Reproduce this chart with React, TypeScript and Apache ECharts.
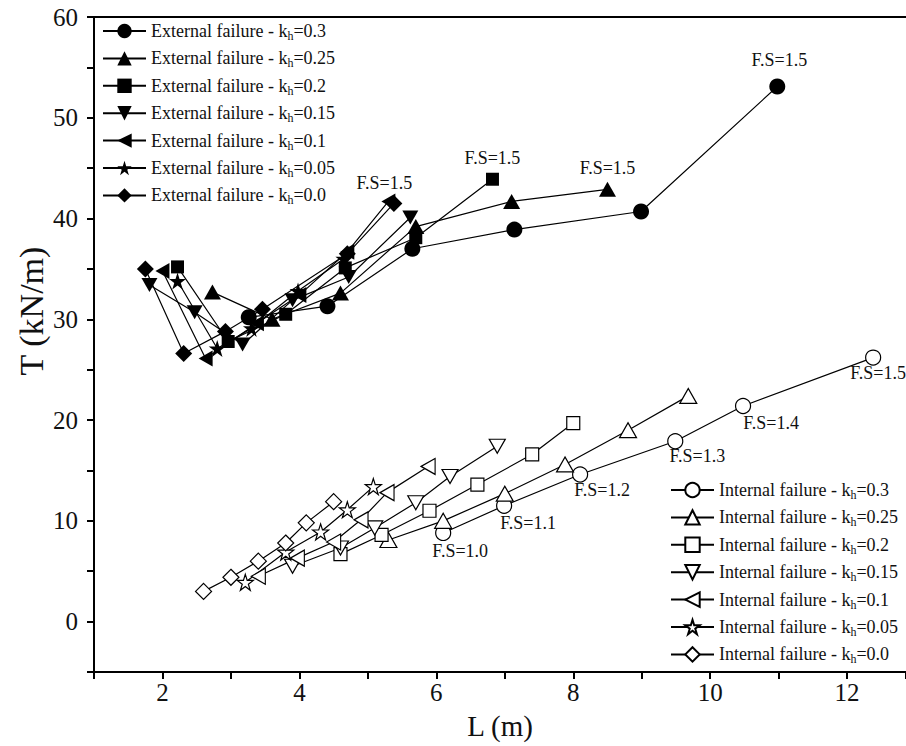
import React, { useEffect, useRef } from "react";
import * as echarts from "echarts";

// ---------- data ----------
const extL_030 = [3.26, 4.41, 5.65, 7.14, 8.99, 10.98];
const extT_030 = [30.2, 31.3, 37.0, 38.9, 40.7, 53.1];
const extL_025 = [2.73, 3.6, 4.6, 5.7, 7.1, 8.5];
const extT_025 = [32.7, 30.0, 32.6, 39.2, 41.7, 42.9];
const extL_020 = [2.22, 2.96, 3.8, 4.67, 5.7, 6.82];
const extT_020 = [35.2, 27.8, 30.5, 35.1, 38.1, 43.9];
const extL_015 = [1.81, 2.47, 3.17, 3.9, 4.72, 5.62];
const extT_015 = [33.4, 30.7, 27.5, 31.9, 34.2, 40.1];
const extL_010 = [2.0, 2.63, 3.38, 4.0, 4.7, 5.3];
const extT_010 = [34.8, 26.1, 29.6, 32.4, 36.7, 41.7];
const extL_005 = [2.22, 2.8, 3.3, 3.98, 4.65];
const extT_005 = [33.8, 27.1, 29.1, 32.8, 36.0];
const extL_000 = [1.75, 2.31, 2.92, 3.46, 4.7, 5.38];
const extT_000 = [35.0, 26.6, 28.8, 31.0, 36.5, 41.5];

const intL_030 = [6.1, 6.99, 8.1, 9.49, 10.48, 12.38];
const intT_030 = [8.8, 11.5, 14.6, 17.9, 21.4, 26.2];
const intL_025 = [5.3, 6.1, 7.0, 7.88, 8.8, 9.68];
const intT_025 = [8.1, 10.0, 12.7, 15.6, 19.0, 22.4];
const intL_020 = [4.6, 5.2, 5.9, 6.6, 7.4, 8.0];
const intT_020 = [6.7, 8.6, 11.0, 13.6, 16.6, 19.7];
const intL_015 = [3.9, 4.6, 5.1, 5.7, 6.2, 6.89];
const intT_015 = [5.5, 7.3, 9.3, 11.8, 14.4, 17.4];
const intL_010 = [3.4, 3.97, 4.5, 4.9, 5.28, 5.88];
const intT_010 = [4.5, 6.3, 7.9, 10.1, 12.8, 15.4];
const intL_005 = [3.21, 3.8, 4.31, 4.7, 5.08];
const intT_005 = [3.9, 6.9, 8.9, 11.1, 13.4];
const intL_000 = [2.6, 3.0, 3.4, 3.8, 4.1, 4.5];
const intT_000 = [3.0, 4.4, 6.0, 7.8, 9.8, 11.9];

const intFsLabels = ["F.S=1.0", "F.S=1.1", "F.S=1.2", "F.S=1.3", "F.S=1.4", "F.S=1.5"];
const extFsLabel = "F.S=1.5";

const khValues = ["0.3", "0.25", "0.2", "0.15", "0.1", "0.05", "0.0"];

const xAxisTitle = "L (m)";
const yAxisTitle = "T (kN/m)";

// ---------- styles ----------
const FONT = "'Liberation Serif', 'Times New Roman', serif";
const DOWN = "path://M0,0L10,0L5,8.66Z";
const LEFT = "path://M0,5L8.66,0L8.66,10Z";
const STAR =
  "path://M5,0L6.18,3.62L10,3.62L6.91,5.86L8.09,9.51L5,7.27L1.91,9.51L3.09,5.86L0,3.62L3.82,3.62Z";
const symbols = ["circle", "triangle", "rect", DOWN, LEFT, STAR, "diamond"];
const extSizes: any[] = [16, [17, 15], 13, [16, 14], [14, 16], 17, 17];
const intSizes: any[] = [15, [17, 15], 13, [16, 14], [14, 16], 16, 16];
const intLabelOffsets = [
  [17, 18],
  [24, 17],
  [22, 16],
  [22, 15],
  [28, 17],
  [5, 15],
];

const extL = [extL_030, extL_025, extL_020, extL_015, extL_010, extL_005, extL_000];
const extT = [extT_030, extT_025, extT_020, extT_015, extT_010, extT_005, extT_000];
const intL = [intL_030, intL_025, intL_020, intL_015, intL_010, intL_005, intL_000];
const intT = [intT_030, intT_025, intT_020, intT_015, intT_010, intT_005, intT_000];

// which external series carry the final F.S label: [distance, dx]
const extLabelPos: Record<number, number[]> = { 0: [10, 2], 1: [5, 0], 2: [6, 0], 4: [1, -4] };

const extNames = khValues.map((k) => `External failure - kh=${k}`);
const intNames = khValues.map((k) => `Internal failure - kh=${k}`);

const labelFont = { fontFamily: FONT, fontSize: 18, color: "#111" };

function buildSeries(): any[] {
  const out: any[] = [];
  khValues.forEach((_, i) => {
    const xs = extL[i];
    const ys = extT[i];
    out.push({
      name: extNames[i],
      type: "line",
      symbol: symbols[i],
      symbolSize: extSizes[i],
      showAllSymbol: true,
      lineStyle: { color: "#000", width: 1.2 },
      itemStyle: { color: "#000", borderColor: "#000", borderWidth: 0 },
      data: xs.map((x, j) => {
        const item: any = { value: [x, ys[j]] };
        const lp = extLabelPos[i];
        if (j === xs.length - 1 && lp !== undefined) {
          item.label = {
            show: true,
            position: "top",
            distance: lp[0],
            offset: [lp[1], 0],
            formatter: extFsLabel,
            ...labelFont,
          };
        }
        return item;
      }),
    });
  });
  khValues.forEach((_, i) => {
    const xs = intL[i];
    const ys = intT[i];
    out.push({
      name: intNames[i],
      type: "line",
      symbol: symbols[i],
      symbolSize: intSizes[i],
      showAllSymbol: true,
      lineStyle: { color: "#000", width: 1.2 },
      itemStyle: { color: "#fff", borderColor: "#000", borderWidth: 1.2 },
      data: xs.map((x, j) => {
        const item: any = { value: [x, ys[j]] };
        if (i === 0) {
          item.label = {
            show: true,
            position: "inside",
            offset: intLabelOffsets[j],
            formatter: intFsLabels[j],
            ...labelFont,
          };
        }
        return item;
      }),
    });
  });
  return out;
}

const legendText = {
  fontFamily: FONT,
  fontSize: 18,
  color: "#111",
  lineHeight: 22,
  rich: {
    s: { fontFamily: FONT, fontSize: 12, lineHeight: 12, verticalAlign: "bottom", color: "#111" },
  },
};

const legendBase = {
  orient: "vertical",
  padding: 0,
  itemWidth: 43,
  itemHeight: 18,
  itemGap: 5.4,
  selectedMode: false,
  textStyle: legendText,
  formatter: (n: string) => n.replace("kh", "k{s|h}"),
};

export default function App() {
  const ref = useRef<HTMLDivElement>(null);
  useEffect(() => {
    if (!ref.current) return;
    const chart = echarts.init(ref.current, undefined, { renderer: "svg" });
    const axisLine = { show: true, onZero: false, lineStyle: { color: "#000", width: 2 } };
    chart.setOption({
      animation: false,
      backgroundColor: "#fff",
      grid: {
        left: 94,
        right: 0,
        top: 17,
        bottom: 74,
        containLabel: false,
        outerBoundsMode: "none",
      },
      graphic: [
        {
          type: "text",
          x: 31,
          y: 311,
          rotation: Math.PI / 2,
          style: {
            text: yAxisTitle,
            fontFamily: FONT,
            fontSize: 34,
            fill: "#111",
            align: "center",
            verticalAlign: "middle",
          },
        },
      ],
      xAxis: [
        {
          type: "value",
          min: 1,
          max: 12.86,
          interval: 1,
          name: xAxisTitle,
          nameLocation: "middle",
          nameGap: 37,
          nameTextStyle: { fontFamily: FONT, fontSize: 29, color: "#111", lineHeight: 32 },
          axisLine,
          axisTick: { show: true, inside: false, length: 7, lineStyle: { color: "#000", width: 2 } },
          axisLabel: {
            fontFamily: FONT,
            fontSize: 25,
            color: "#111",
            margin: 8,
            formatter: (v: number) => (Math.abs(v % 2) < 1e-9 ? String(v) : ""),
          },
          splitLine: { show: false },
        },
        {
          type: "value",
          position: "top",
          min: 1,
          max: 12.86,
          axisLine,
          axisTick: { show: false },
          axisLabel: { show: false },
          splitLine: { show: false },
        },
      ],
      yAxis: {
        type: "value",
        min: -5,
        max: 60,
        interval: 5,
        axisLine,
        axisTick: { show: true, inside: false, length: 7, lineStyle: { color: "#000", width: 2 } },
        axisLabel: {
          fontFamily: FONT,
          fontSize: 25,
          color: "#111",
          margin: 16,
          formatter: (v: number) => (Math.abs(v % 10) < 1e-9 ? String(v) : ""),
        },
        splitLine: { show: false },
      },
      legend: [
        { ...legendBase, data: extNames, left: 102, top: 20 },
        { ...legendBase, data: intNames, left: 670, top: 479 },
      ],
      series: buildSeries(),
    });
    return () => chart.dispose();
  }, []);
  return (
    <div
      ref={ref}
      style={{ position: "fixed", left: 0, top: 0, width: 906, height: 746, background: "#fff" }}
    />
  );
}
